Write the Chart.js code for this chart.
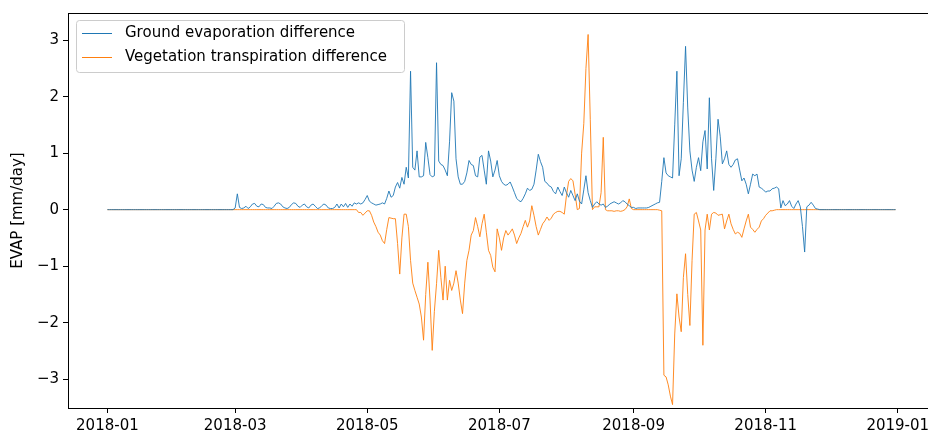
<!DOCTYPE html>
<html>
<head>
<meta charset="utf-8">
<script src="https://cdn.jsdelivr.net/npm/chart.js@4.4.1/dist/chart.umd.min.js"></script>
<style>
    html, body { margin: 0; padding: 0; background: #fff; }
    #wrap { width: 928px; height: 433px; overflow: hidden; position: relative; }
</style>
</head>
<body>
<div id="wrap"><canvas id="chartCanvas" width="945" height="433"></canvas></div>
<script>
// Month ticks (day of year 2018) and their labels
const tickDays = [0, 59, 120, 181, 243, 304, 365];
const tickLabels = ['2018-01', '2018-03', '2018-05', '2018-07', '2018-09', '2018-11', '2019-01'];
const yTicks = [-3, -2, -1, 0, 1, 2, 3];

const seriesNames = ['Ground evaporation difference', 'Vegetation transpiration difference'];

// Daily values, 2018-01-01 .. 2018-12-31
const ground = [
    // Jan
    0,0,0,0,0,0,0,0,0,0,0,0,0,0,0,0,0,0,0,0,0,0,0,0,0,0,0,0,0,0,0,
    // Feb
    0,0,0,0,0,0,0,0,0,0,0,0,0,0,0,0,0,0,0,0,0,0,0,0,0,0,0,0,
    // Mar
    0.03,0.28,0.04,0.02,0.03,0.06,0.02,0.05,0.1,0.11,0.06,0.05,0.1,0.09,0.04,0.03,
    0.03,0.02,0.06,0.11,0.12,0.1,0.05,0.03,0.02,0.04,0.09,0.12,0.11,0.06,0.04,
    // Apr
    0.08,0.1,0.05,0.03,0.08,0.1,0.06,0.02,0.03,0.07,0.1,0.08,0.03,0.02,0.02,
    0.04,0.1,0.03,0.1,0.05,0.11,0.04,0.1,0.06,0.12,0.1,0.12,0.1,0.12,0.18,
    // May
    0.25,0.15,0.12,0.1,0.08,0.09,0.1,0.12,0.1,0.2,0.33,0.22,0.25,0.4,0.48,0.38,
    0.57,0.45,0.75,0.56,2.45,0.75,0.7,1.04,0.58,0.58,0.6,1.19,0.92,0.62,0.58,
    // Jun
    0.6,2.6,0.86,0.8,0.78,0.7,0.6,1.2,2.07,1.92,0.9,0.58,0.45,0.45,0.5,
    0.65,0.87,0.8,0.78,0.6,0.58,0.93,0.96,0.7,0.45,1.04,0.86,0.58,0.7,0.87,
    // Jul
    0.6,0.5,0.45,0.43,0.45,0.49,0.4,0.3,0.2,0.16,0.14,0.2,0.28,0.38,0.34,0.36,
    0.45,0.7,0.98,0.85,0.75,0.5,0.47,0.42,0.4,0.32,0.28,0.4,0.32,0.25,0.4,
    // Aug
    0.3,0.22,0.34,0.25,0.16,0.28,0.15,0.1,0.35,0.6,0.3,0.16,0.04,0.1,0.14,0.1,
    0.08,0.1,0.04,0.06,0.1,0.12,0.14,0.12,0.1,0.12,0.16,0.14,0.1,0.07,0.04,
    // Sep
    0.04,0.02,0.03,0.03,0.03,0.03,0.03,0.04,0.06,0.08,0.1,0.12,0.13,0.5,0.92,
    0.65,0.6,0.58,0.56,1.5,2.45,0.6,0.9,1.9,2.89,1.8,1.04,0.7,0.5,0.75,
    // Oct
    0.92,0.69,1.2,1.4,0.72,1.98,0.9,0.34,0.9,1.6,1.3,0.81,0.9,1.04,0.8,0.75,
    0.8,0.88,0.9,0.7,0.51,0.56,0.45,0.28,0.45,0.63,0.6,0.63,0.4,0.38,0.35,
    // Nov
    0.31,0.33,0.33,0.37,0.38,0.4,0.37,0.03,0.16,0.07,0.1,0.16,0.06,0.02,0.1,
    0.16,0.05,-0.3,-0.75,0.05,0.08,0.13,0.08,0.02,0.01,0,0,0,0,0,
    // Dec
    0,0,0,0,0,0,0,0,0,0,0,0,0,0,0,0,0,0,0,0,0,0,0,0,0,0,0,0,0,0,0
];

const vegetation = [
    // Jan
    0,0,0,0,0,0,0,0,0,0,0,0,0,0,0,0,0,0,0,0,0,0,0,0,0,0,0,0,0,0,0,
    // Feb
    0,0,0,0,0,0,0,0,0,0,0,0,0,0,0,0,0,0,0,0,0,0,0,0,0,0,0,0,
    // Mar
    0,0,0,0,0,0,0,0,0,0,0,0,0,0,0,0,0,0,0,0,0,0,0,0,0,0,0,0,0,0,0,
    // Apr
    0,0,0,0,0,0,0,0,0,0,0,0,0,0,0,0,0,0,0,0,0,0,0,0,0,
    0,-0.05,-0.05,-0.1,-0.06,
    // May
    -0.02,-0.02,-0.1,-0.22,-0.3,-0.4,-0.45,-0.55,-0.6,-0.35,-0.14,-0.15,-0.16,-0.16,-0.6,-1.14,
    -0.5,-0.08,-0.08,-0.3,-0.9,-1.3,-1.43,-1.55,-1.67,-1.9,-2.31,-1.5,-0.93,-1.6,-2.49,
    // Jun
    -1.8,-1.31,-0.72,-1.2,-1.6,-1.0,-1.6,-1.25,-1.43,-1.3,-1.08,-1.3,-1.6,-1.84,-1.3,
    -0.9,-0.72,-0.45,-0.37,-0.14,-0.3,-0.48,-0.25,-0.08,-0.4,-0.72,-0.81,-1.02,-1.1,-0.34,
    // Jul
    -0.5,-0.72,-0.5,-0.37,-0.45,-0.4,-0.34,-0.45,-0.6,-0.5,-0.42,-0.3,-0.19,-0.31,-0.2,0.07,
    -0.1,-0.3,-0.45,-0.35,-0.25,-0.2,-0.13,-0.19,-0.15,-0.08,-0.05,-0.03,-0.03,-0.05,-0.08,
    // Aug
    0.25,0.5,0.55,0.51,0.27,0,0.02,1.0,1.52,2.5,3.1,1.6,0,0.05,0.05,0.05,
    0.3,1.28,0,-0.02,-0.02,-0.02,-0.03,-0.02,-0.02,-0.03,-0.02,0,0.05,0.19,0.02,
    // Sep
    0,0,0,0,0,0,0,0,0,0,0,0,-0.01,-0.02,-2.93,
    -2.96,-3.1,-3.3,-3.45,-2.2,-1.49,-1.9,-2.16,-1.2,-0.78,-1.5,-2.05,-0.9,-0.08,-0.05,
    // Oct
    -0.2,-0.36,-2.4,-0.36,-0.08,-0.36,-0.08,-0.05,-0.06,-0.1,-0.09,-0.08,-0.34,-0.2,-0.08,-0.25,
    -0.35,-0.43,-0.4,-0.42,-0.49,-0.34,-0.2,-0.08,-0.31,-0.35,-0.4,-0.35,-0.31,-0.2,-0.16,
    // Nov
    -0.1,-0.06,-0.02,-0.02,-0.01,0,0,0,0,0,0,0,0,0,0,
    0,0,0,0,0,0,0,0,0,0,0,0,0,0,0,
    // Dec
    0,0,0,0,0,0,0,0,0,0,0,0,0,0,0,0,0,0,0,0,0,0,0,0,0,0,0,0,0,0,0
];

const colors = ['#1f77b4', '#ff7f0e'];
const FONT = '"DejaVu Sans", sans-serif';

function toPoints(values) {
    return values.map((v, i) => ({ x: i, y: v }));
}

// Axes frame (all four spines)
const framePlugin = {
    id: 'frame',
    afterDraw(chart) {
        const { ctx, chartArea: a } = chart;
        ctx.save();
        ctx.strokeStyle = '#000';
        ctx.lineWidth = 1;
        ctx.strokeRect(a.left + 0.5, a.top + 0.5, a.right - a.left, a.bottom - a.top);
        ctx.restore();
    }
};

// Matplotlib-like legend in the upper left corner
const legendPlugin = {
    id: 'mplLegend',
    afterDraw(chart) {
        const { ctx, chartArea: a } = chart;
        const x = a.left + 8, y = a.top + 7, w = 328, h = 52, r = 3;
        ctx.save();
        ctx.beginPath();
        ctx.roundRect(x + 0.5, y + 0.5, w, h, r);
        ctx.fillStyle = 'rgba(255,255,255,0.8)';
        ctx.fill();
        ctx.strokeStyle = '#cccccc';
        ctx.lineWidth = 1;
        ctx.stroke();
        ctx.font = '15px ' + FONT;
        ctx.textBaseline = 'middle';
        ctx.fillStyle = '#000';
        chart.data.datasets.forEach((ds, i) => {
            const ry = y + 13 + i * 24;
            ctx.beginPath();
            ctx.moveTo(x + 6, ry + 0.5);
            ctx.lineTo(x + 36, ry + 0.5);
            ctx.strokeStyle = ds.borderColor;
            ctx.lineWidth = 1;
            ctx.stroke();
            ctx.fillText(ds.label, x + 49, ry);
        });
        ctx.restore();
    }
};

const config = {
    type: 'line',
    data: {
        datasets: [
            {
                label: seriesNames[0],
                data: toPoints(ground),
                borderColor: colors[0],
                borderWidth: 0.9,
                pointRadius: 0,
                fill: false,
                tension: 0
            },
            {
                label: seriesNames[1],
                data: toPoints(vegetation),
                borderColor: colors[1],
                borderWidth: 0.9,
                pointRadius: 0,
                fill: false,
                tension: 0
            }
        ]
    },
    options: {
        responsive: false,
        animation: false,
        devicePixelRatio: 1,
        layout: { padding: { top: 12, right: 10, left: 0, bottom: 0 } },
        plugins: {
            legend: { display: false },
            tooltip: { enabled: false }
        },
        scales: {
            x: {
                type: 'linear',
                min: -18.2,
                max: 382.2,
                afterBuildTicks: scale => { scale.ticks = tickDays.map(v => ({ value: v })); },
                afterFit: scale => { scale.height = 25; },
                grid: { drawOnChartArea: false, tickLength: 5, color: '#000' },
                border: { display: false },
                ticks: {
                    autoSkip: false,
                    maxRotation: 0,
                    padding: 4,
                    color: '#000',
                    font: { family: FONT, size: 15 },
                    callback: value => tickLabels[tickDays.indexOf(value)]
                }
            },
            y: {
                min: -3.51,
                max: 3.48,
                afterBuildTicks: scale => { scale.ticks = yTicks.map(v => ({ value: v })); },
                afterFit: scale => { scale.width = 68; },
                grid: { drawOnChartArea: false, tickLength: 5, color: '#000' },
                border: { display: false },
                ticks: {
                    padding: 4,
                    color: '#000',
                    font: { family: FONT, size: 15 },
                    callback: value => value < 0 ? '\u2212' + Math.abs(value) : String(value)
                },
                title: {
                    display: true,
                    text: 'EVAP [mm/day]',
                    color: '#000',
                    font: { family: FONT, size: 15 },
                    padding: { top: 9, bottom: 0 }
                }
            }
        }
    },
    plugins: [framePlugin, legendPlugin]
};

const ctx = document.getElementById('chartCanvas').getContext('2d');
const chart = new Chart(ctx, config);
</script>
</body>
</html>
